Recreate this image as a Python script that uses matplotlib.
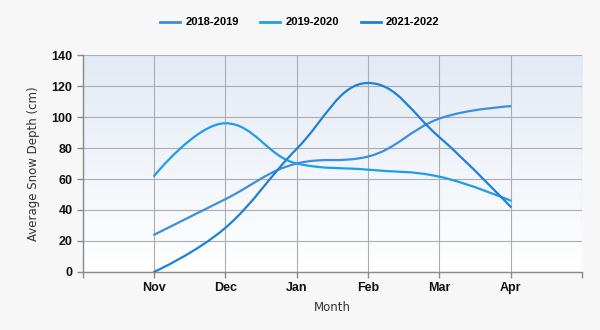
import numpy as np
import matplotlib.pyplot as plt
from matplotlib.path import Path
from matplotlib.patches import PathPatch
from matplotlib.lines import Line2D

months = ['Nov', 'Dec', 'Jan', 'Feb', 'Mar', 'Apr']
seasons = ['2018-2019', '2019-2020', '2021-2022']
depth_2018_2019 = [24, 47, 70, 74.5, 99, 107]
depth_2019_2020 = [62, 96, 70, 66, 61.5, 46]
depth_2021_2022 = [0, 28.5, 79.5, 122, 87, 42]
colors = ['#3b8fdc', '#1e9de8', '#1f80d5']


def spline_path(x, y, smoothing=1.5):
    # bezier control points, same idea as a Highcharts "spline" series
    n = len(x)
    left = [(x[i], y[i]) for i in range(n)]
    right = [(x[i], y[i]) for i in range(n)]
    d = smoothing + 1
    for i in range(1, n - 1):
        lx = (smoothing * x[i] + x[i - 1]) / d
        ly = (smoothing * y[i] + y[i - 1]) / d
        rx = (smoothing * x[i] + x[i + 1]) / d
        ry = (smoothing * y[i] + y[i + 1]) / d
        corr = (ry - ly) * (rx - x[i]) / (rx - lx) + y[i] - ry
        ly += corr
        ry += corr
        if (ly > y[i - 1] and ly > y[i]) or (ly < y[i - 1] and ly < y[i]):
            ly = max(y[i - 1], y[i]) if ly > y[i] else min(y[i - 1], y[i])
            ry = 2 * y[i] - ly
        if (ry > y[i + 1] and ry > y[i]) or (ry < y[i + 1] and ry < y[i]):
            ry = max(y[i + 1], y[i]) if ry > y[i] else min(y[i + 1], y[i])
            ly = 2 * y[i] - ry
        left[i] = (lx, ly)
        right[i] = (rx, ry)
    verts = [(x[0], y[0])]
    codes = [Path.MOVETO]
    for i in range(1, n):
        verts += [right[i - 1], left[i], (x[i], y[i])]
        codes += [Path.CURVE4] * 3
    return Path(verts, codes)


fig = plt.figure(figsize=(6, 3.3), dpi=100, facecolor='#f7f7f7')
ax = fig.add_axes([0.138, 0.176, 0.832, 0.657])

# gradient background of the plot area
grad = np.linspace(0, 1, 256).reshape(-1, 1)
top = np.array([227, 234, 245]) / 255
bottom = np.array([255, 255, 255]) / 255
img = top + (bottom - top) * grad[:, :, None]
ax.imshow(img, extent=[0, 1, 0, 1], transform=ax.transAxes, aspect='auto', zorder=0)

xs = np.arange(len(months))
all_series = [depth_2018_2019, depth_2019_2020, depth_2021_2022]
handles = []
for name, vals, c in zip(seasons, all_series, colors):
    p = PathPatch(spline_path(xs, vals), facecolor='none', edgecolor=c, lw=1.6, zorder=3, capstyle='round')
    ax.add_patch(p)
    handles.append(Line2D([], [], color=c, lw=2))

ax.set_xlim(-1, 6)
ax.set_ylim(0, 140)
ax.set_xticks(np.arange(-1, 7))
ax.set_xticklabels([''] + months + [''])
ax.set_yticks(np.arange(0, 141, 20))
ax.grid(True, color='#acacb2', lw=0.8, zorder=1)
ax.set_axisbelow(True)
for s in ['top', 'right']:
    ax.spines[s].set_visible(False)
for s in ['left', 'bottom']:
    ax.spines[s].set_color('#8a8a8a')
    ax.spines[s].set_linewidth(1)
ax.tick_params(colors='#8a8a8a', labelcolor='#111111', length=4, width=1)
ax.tick_params(axis='x', pad=3)
for t in ax.get_xticklabels() + ax.get_yticklabels():
    t.set_fontfamily('Liberation Sans')
    t.set_fontweight('bold')
    t.set_fontsize(9)

ax.set_xlabel('Month', fontsize=8.5, color='#333333', labelpad=5)
ax.set_ylabel('Average Snow Depth (cm)', fontsize=8.5, color='#333333', labelpad=8)

fig.legend(handles, seasons, loc='center', bbox_to_anchor=(0.5, 0.932), ncol=3, frameon=False,
           handlelength=1.8, handletextpad=0.5, columnspacing=1.9,
           prop={'family': 'Liberation Sans', 'weight': 'bold', 'size': 8})

fig.savefig('out.png', dpi=100, facecolor=fig.get_facecolor())
